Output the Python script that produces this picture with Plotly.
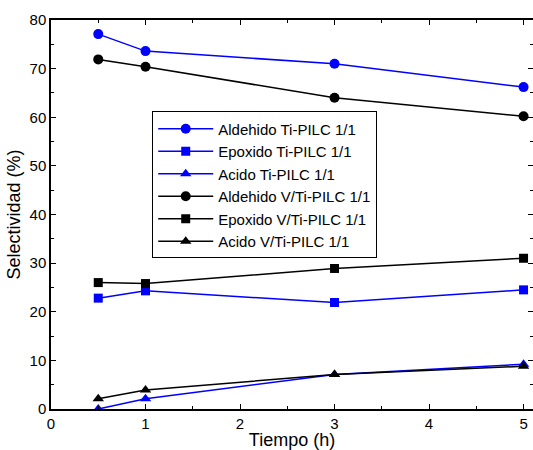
import plotly.graph_objects as go

tiempo = [0.5, 1, 3, 5]

aldehido_ti = [77.1, 73.6, 71.0, 66.2]
epoxido_ti = [22.8, 24.3, 21.9, 24.5]
acido_ti = [0.0, 2.1, 7.1, 9.2]

aldehido_vti = [71.9, 70.4, 64.0, 60.2]
epoxido_vti = [26.0, 25.8, 28.9, 31.0]
acido_vti = [2.1, 3.9, 7.1, 8.8]

series = [
    ("Aldehido Ti-PILC 1/1", aldehido_ti, "blue", "circle"),
    ("Epoxido Ti-PILC 1/1", epoxido_ti, "blue", "square"),
    ("Acido Ti-PILC 1/1", acido_ti, "blue", "triangle-up"),
    ("Aldehido V/Ti-PILC 1/1", aldehido_vti, "black", "circle"),
    ("Epoxido V/Ti-PILC 1/1", epoxido_vti, "black", "square"),
    ("Acido V/Ti-PILC 1/1", acido_vti, "black", "triangle-up"),
]

fig = go.Figure()
for name, vals, color, sym in series:
    fig.add_trace(go.Scatter(
        x=tiempo, y=vals, name=name, mode="lines+markers",
        line=dict(color=color, width=1.5),
        marker=dict(color=color, symbol=sym, size=10 if sym != "square" else 9),
    ))

font = "Liberation Sans, Arial, sans-serif"
fig.update_layout(
    width=533, height=450,
    margin=dict(l=51, r=0, t=20, b=41),
    paper_bgcolor="white", plot_bgcolor="white",
    font=dict(family=font, size=15, color="black"),
    showlegend=True,
    legend=dict(
        x=0.21, y=0.765, xanchor="left", yanchor="top",
        bordercolor="black", borderwidth=1, bgcolor="white",
        font=dict(size=15), itemwidth=55, tracegroupgap=0,
    ),
    xaxis=dict(
        range=[0, 5.1], dtick=1, tick0=0, automargin=False,
        showline=True, linecolor="black", linewidth=1.5, mirror="ticks",
        ticks="inside", ticklen=5, tickcolor="black",
        minor=dict(ticks="inside", dtick=0.5, ticklen=3, tickcolor="black"),
        showgrid=False, zeroline=False,
        title=dict(text="Tiempo (h)", font=dict(size=18), standoff=6),
        tickfont=dict(size=15),
    ),
    yaxis=dict(
        range=[0, 80], dtick=10, tick0=0, automargin=False,
        showline=True, linecolor="black", linewidth=1.5, mirror="ticks",
        ticks="inside", ticklen=5, tickcolor="black",
        minor=dict(ticks="inside", dtick=5, ticklen=3, tickcolor="black"),
        showgrid=False, zeroline=False,
        title=dict(text="Selectividad (%)", font=dict(size=18), standoff=4),
        tickfont=dict(size=15),
    ),
)

fig.write_html(
    "out.html",
    config={"displayModeBar": False},
    post_script="document.body.style.margin='0px';document.body.style.overflow='hidden';",
)
